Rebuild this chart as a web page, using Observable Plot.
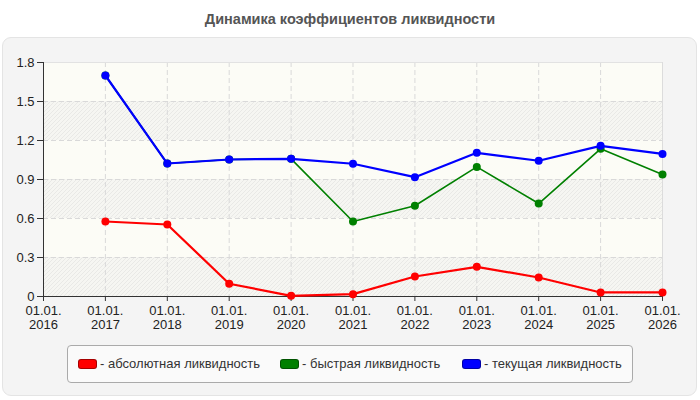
<!DOCTYPE html>
<html><head><meta charset="utf-8">
<script src="https://cdn.jsdelivr.net/npm/d3@7"></script>
<script src="https://cdn.jsdelivr.net/npm/@observablehq/plot@0.6"></script>
<style>
body{margin:0;background:#fff;font-family:"Liberation Sans",Arial,sans-serif;}
#wrap{position:relative;width:700px;height:400px;overflow:hidden;}
#title{position:absolute;left:0;top:11px;width:700px;text-align:center;font-family:"Liberation Sans Narrow","Arial Narrow","Liberation Sans",sans-serif;font-weight:bold;font-size:14.5px;color:#555;}
#panel{position:absolute;left:2px;top:37px;width:693px;height:357px;background:#f4f4f4;border:1px solid #e4e4e4;border-radius:9px;}
#chart{position:absolute;left:0;top:40px;}
#legend{position:absolute;left:67px;top:345px;width:564px;height:36px;background:#fafafa;border:1px solid #aaa;border-radius:4px;}
.item{position:absolute;top:10px;font-size:13px;color:#333;white-space:nowrap;}
.sw{display:inline-block;width:17px;height:8px;border-radius:3px;border:1px solid rgba(0,0,0,0.35);vertical-align:middle;margin-right:3px;position:relative;top:-1px;}
</style></head>
<body>
<div id="wrap">
<div id="title">Динамика коэффициентов ликвидности</div>
<div id="panel"></div>
<div id="chart"></div>
<div id="legend"></div>
</div>
<script>
const years = [2017, 2018, 2019, 2020, 2021, 2022, 2023, 2024, 2025, 2026];
const absolute = [0.577, 0.554, 0.098, 0.005, 0.018, 0.154, 0.228, 0.146, 0.031, 0.031];
const quick    = [1.70, 1.023, 1.054, 1.059, 0.577, 0.698, 0.997, 0.715, 1.136, 0.938];
const current  = [1.70, 1.023, 1.054, 1.059, 1.021, 0.918, 1.105, 1.044, 1.159, 1.097];
const xTicks = [2016, 2017, 2018, 2019, 2020, 2021, 2022, 2023, 2024, 2025, 2026];
const yTicks = [0, 0.3, 0.6, 0.9, 1.2, 1.5, 1.8];
const seriesNames = ["- абсолютная ликвидность", "- быстрая ликвидность", "- текущая ликвидность"];
const seriesColors = ["#ff0000", "#008000", "#0000ff"];
const seriesValues = [absolute, quick, current];

const bands = yTicks.slice(0, -1).map((lo, i) => ({lo, hi: yTicks[i + 1], hatched: i % 2 === 0}));
const series = seriesValues.map((vals, s) => years.map((yr, i) => ({year: yr, value: vals[i], s})));

const marks = [
  Plot.rect(bands, {x1: () => xTicks[0], x2: () => xTicks[xTicks.length - 1], y1: "lo", y2: "hi", fill: "#fcfcf6"}),
  Plot.rect(bands.filter(d => d.hatched), {x1: () => xTicks[0], x2: () => xTicks[xTicks.length - 1], y1: "lo", y2: "hi", fill: "url(#hatch)"}),
  Plot.ruleY(yTicks.slice(1, -1), {stroke: "#d9d9d9", strokeDasharray: "5,3"}),
  Plot.ruleX(xTicks.slice(1, -1), {stroke: "#d9d9d9", strokeDasharray: "5,3"}),
  Plot.ruleY([yTicks[yTicks.length - 1]], {stroke: "#e2e2e2"}),
  Plot.ruleX([xTicks[xTicks.length - 1]], {stroke: "#dcdcdc"}),
  Plot.axisY({ticks: yTicks, tickFormat: d => d === 0 ? "0" : d.toFixed(1), tickSize: 6, tickPadding: 3, fontSize: 13, color: "#222", label: null, stroke: "#333"}),
  Plot.axisX({ticks: xTicks, tickFormat: d => "01.01.\n" + d, tickSize: 5, tickPadding: 4, fontSize: 13, color: "#222", label: null, stroke: "#333", lineHeight: 1.05}),
  Plot.ruleX([xTicks[0]], {stroke: "#333"}),
  Plot.ruleY([0], {stroke: "#333"})
];
series.forEach((data, s) => {
  marks.push(Plot.line(data, {x: "year", y: "value", stroke: seriesColors[s], strokeWidth: s === 1 ? 1.6 : 2.2}));
  marks.push(Plot.dot(data, {x: "year", y: "value", fill: seriesColors[s], r: 4}));
});

const svg = Plot.plot({
  width: 700, height: 296,
  marginLeft: 43, marginRight: 38, marginTop: 22, marginBottom: 40,
  style: {background: "transparent", fontFamily: "'Liberation Sans', Arial, sans-serif", fontSize: "13px", overflow: "visible"},
  x: {domain: [xTicks[0], xTicks[xTicks.length - 1]]},
  y: {domain: [yTicks[0], yTicks[yTicks.length - 1]]},
  marks
});
d3.select(svg).insert("defs", ":first-child").html(
  '<pattern id="hatch" patternUnits="userSpaceOnUse" width="4" height="4">' +
  '<rect width="4" height="4" fill="#f6f6f2"/>' +
  '<path d="M-1,1 l2,-2 M0,4 l4,-4 M3,5 l2,-2" stroke="#e9e9e6" stroke-width="1"/></pattern>');
document.getElementById("chart").appendChild(svg);

const lefts = [10, 212, 394];
const legend = document.getElementById("legend");
seriesNames.forEach((name, i) => {
  const it = document.createElement("div");
  it.className = "item";
  it.style.left = lefts[i] + "px";
  it.innerHTML = `<span class="sw" style="background:${seriesColors[i]}"></span>${name}`;
  legend.appendChild(it);
});
</script>
</body></html>
